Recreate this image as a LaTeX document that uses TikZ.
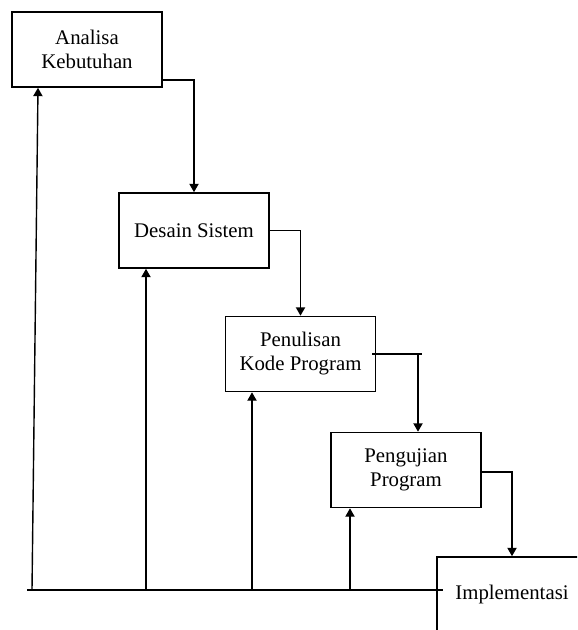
\documentclass[tikz,border=0pt]{standalone}
\usepackage{fontspec}
\setmainfont{Liberation Serif}
\usetikzlibrary{arrows.meta,calc}
\tikzset{
  phase/.style={rectangle, draw=black, line width=0.8pt, minimum width=75pt,
                minimum height=37.5pt, align=center, inner sep=2pt,
                font=\fontsize{10.4}{12}\selectfont},
  arr/.style  ={-{Triangle[length=4.2pt,width=4.6pt]}, line width=0.7pt},
  ln/.style   ={line width=0.7pt},
}

\begin{document}
\begin{tikzpicture}[x=0.5pt,y=-0.5pt]
  \useasboundingbox (0,0) rectangle (577,630);
  \clip (0,0) rectangle (577,630);
  \node[phase] (analisa) at (87,49.5)  {Analisa\\Kebutuhan};
  \node[phase] (desain)  at (194,230.5) {Desain Sistem};
  \node[phase] (kode)    at (300.5,354) {Penulisan\\Kode Program};
  \node[phase] (uji)     at (406,470)  {Pengujian\\Program};
  \node[phase] (impl)    at (512,594.5) {Implementasi};

  \draw[arr] ([yshift=-15.25pt]analisa.east) -| (desain.north);
  \draw[arr] (desain.east) -| (kode.north);
  \coordinate (k4) at ([xshift=6pt]uji.north);
  \draw[ln] ([xshift=-2pt]kode.east) -- ++(50,0);
  \draw[arr] (k4 |- kode.east) -- (k4);
  \draw[arr] ([yshift=-1pt]uji.east) -| (impl.north);

  \coordinate (base0) at (27,590);
  \coordinate (base1) at (443,590);
  \coordinate (f1) at (32,590);
  \coordinate (f2) at (146,590);
  \coordinate (f3) at (252,590);
  \coordinate (f4) at (350,590);
  \draw[ln] (base0) -- (base1);
  \draw[arr] (f1) -- ([xshift=-24.5pt]analisa.south);
  \draw[arr] (f2) -- (f2 |- desain.south);
  \draw[arr] (f3) -- (f3 |- kode.south);
  \draw[arr] (f4) -- (f4 |- uji.south);
\end{tikzpicture}
\end{document}
